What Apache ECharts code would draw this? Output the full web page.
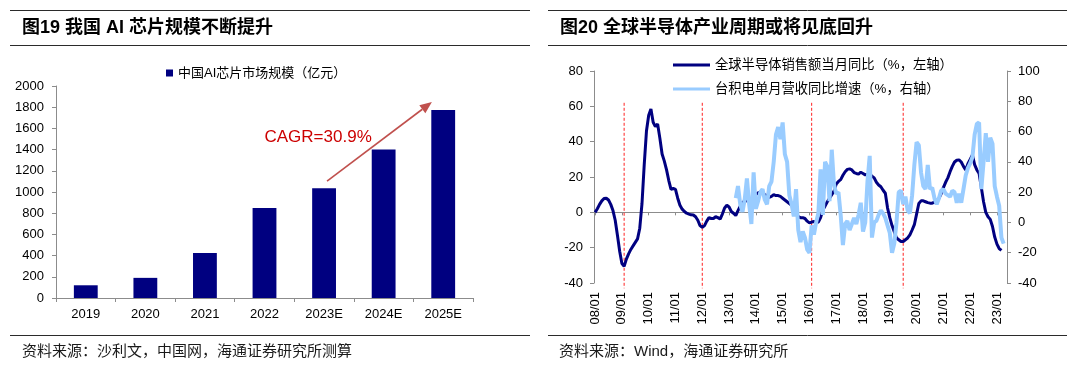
<!DOCTYPE html>
<html>
<head>
<meta charset="utf-8">
<script src="https://cdn.jsdelivr.net/npm/echarts@6/dist/echarts.min.js"></script>
<style>
html,body{margin:0;padding:0;background:#fff;}
#c{width:1080px;height:366px;}
</style>
</head>
<body>
<div id="c"></div>
<script>
// ---------------- data ----------------
const barCategories = ['2019', '2020', '2021', '2022', '2023E', '2024E', '2025E'];
const barValues = [120, 190, 425, 850, 1036, 1402, 1773];
const barSeriesName = '中国AI芯片市场规模（亿元）';
const cagrText = 'CAGR=30.9%';

const leftTitle = '图19 我国 AI 芯片规模不断提升';
const rightTitle = '图20 全球半导体产业周期或将见底回升';
const leftSource = '资料来源：沙利文，中国网，海通证券研究所测算';
const rightSource = '资料来源：Wind，海通证券研究所';

// monthly axis 2008/01 .. 2023/05
const monthFirstYear = 2008;
const monthCount = 185;
const monthCategories = [];
for (let i = 0; i < monthCount; i++) {
  const y = monthFirstYear + Math.floor(i / 12);
  const m = (i % 12) + 1;
  monthCategories.push(y + '/' + (m < 10 ? '0' + m : '' + m));
}

const salesName = '全球半导体销售额当月同比（%，左轴）';
const tsmcName = '台积电单月营收同比增速（%，右轴）';

// global semiconductor sales YoY (%), from 2008/01
const salesYoY = [
  0, 2, 4.5, 6.5, 7.8, 8, 7, 4.5, 1, -4.5,
  -13, -22, -29, -30.5, -26.5, -23.5, -21, -19, -17, -15,
  -9, 5, 27, 46, 55, 58.5, 51, 48.5, 50, 42,
  33, 29, 24, 18, 13, 13.5, 13, 8, 4, 1.8,
  0.5, -0.5, -1, -1.4, -1.5, -2.5, -4.5, -7.5, -8.5, -7.5,
  -5, -3, -3.5, -3.5, -2.5, -3, -3.8, -1, 2.5, 4,
  3, 0.5, -0.5, -1.8, 1, 3.5, 5.5, 6.5, 6.5, 6,
  6.5, 8.5, 10, 11, 11.5, 10.5, 10, 9.5, 8.5, 9,
  10, 9.5, 9.5, 9, 8, 7, 6, 5, 4, 2.5,
  0, -2.5, -3, -3, -3.5, -5, -6, -5.5, -5.2, -5.8,
  -5.5, -3, 1.4, 3.5, 6, 8, 10, 12, 16, 17.5,
  18.5, 21, 23, 24.3, 24.6, 24, 22.5, 22, 21.6, 22.7,
  22, 21.2, 21.5, 21.6, 20.5, 19.5, 17, 15.5, 14.5, 12.5,
  10.8, 2.4, -3, -7.5, -11, -14.5, -15.5, -16.5, -16.5, -15.5,
  -14.5, -12.8, -10, -7, -1, 5, 6.5, 6.5, 6, 5.5,
  5.2, 5.2, 5.8, 6.5, 8, 10.5, 14, 17, 19.5, 23,
  26, 28.5, 29.5, 29.7, 28.5, 26, 24, 27.5, 30, 32.5,
  27, 24, 22, 14, 6, 0, -2.5, -4, -8, -14,
  -18, -20.5, -21.6
];

// TSMC monthly revenue YoY (%), from 2013/04
const tsmcFirstMonth = '2013/04';
const tsmcYoY = [
  16, 24, 12, 7, 15, 29, 12, -1, 33, 9,
  14, 20, 22, 15, 12, 24, 27, 40, 58, 63,
  55, 66, 45, 40, 18, 12, 4, 22, -5, -13,
  -6, -10, -18, -20, -2, -8, 0, 6, 35, 5,
  40, 37, 14, 48, 25, 19, 20, 5, -15, -1,
  1, -5, -1, 3, -1, 5, 13, -6, 0, 27,
  44, -10, 0, 1, 5, 8, 6, 3, -2, -7,
  -20, -14, 0, 20, 21, 12, 17, 8, 6, 18,
  38, 53, 51, 33, 24, 22, 38, 22, 23, 16,
  12, 16, 21, 22, 19, 18, 17, 21, 20, 13,
  19, 13, 22, 31, 36, 39, 43, 58, 65, 66,
  22, 40, 59, 40, 56, 52, 24, 17, 11, -10,
  -14
];

// cycle-bottom markers (red dashed lines)
const cycleBottomMonths = ['2009/02', '2012/01', '2016/02', '2019/07'];

// ---------------- helpers ----------------
const NUM_FONT = '"Liberation Sans", Arial, "Noto Sans CJK SC", sans-serif';
const CJK_FONT = '"Liberation Sans", "Noto Sans CJK SC", sans-serif';

const tsmcStart = monthCategories.indexOf(tsmcFirstMonth);
const tsmcSeriesData = monthCategories.map((m, i) => {
  const k = i - tsmcStart;
  return (k >= 0 && k < tsmcYoY.length) ? tsmcYoY[k] : null;
});
const salesSeriesData = monthCategories.map((m, i) => i < salesYoY.length ? salesYoY[i] : null);

const markerTop = 62, markerBottom = -43;
const markerSeries = cycleBottomMonths.map(m => ({
  type: 'line',
  xAxisIndex: 1,
  yAxisIndex: 1,
  data: [[m, markerTop], [m, markerBottom]],
  symbol: 'none',
  clip: false,
  silent: true,
  z: 1,
  lineStyle: { color: '#ff2020', width: 1, type: [3, 2] }
}));

const axisGray = '#8c8c8c';
const plainNum = v => String(v);

const chart = echarts.init(document.getElementById('c'), null, { renderer: 'canvas' });

const option = {
  backgroundColor: '#ffffff',
  animation: false,
  grid: [
    { left: 56, right: 607, top: 86, bottom: 68, outerBoundsMode: 'none', containLabel: false },
    { left: 594, right: 73, top: 71, bottom: 83, outerBoundsMode: 'none', containLabel: false }
  ],
  legend: [
    {
      data: [barSeriesName],
      left: 166, top: 65, padding: 0,
      itemWidth: 7, itemHeight: 7, icon: 'rect',
      textStyle: { fontFamily: CJK_FONT, fontSize: 13, color: '#000', lineHeight: 16 }
    },
    {
      data: [salesName, tsmcName],
      orient: 'vertical', padding: 0,
      left: 673, top: 57,
      itemWidth: 37, itemHeight: 3, itemGap: 8, icon: 'rect',
      textStyle: { fontFamily: CJK_FONT, fontSize: 13.3, color: '#000', lineHeight: 16 }
    }
  ],
  xAxis: [
    {
      type: 'category', gridIndex: 0, data: barCategories,
      axisLine: { lineStyle: { color: axisGray, width: 1 } },
      axisTick: { show: true, length: 4, lineStyle: { color: axisGray } },
      axisLabel: { color: '#000', fontFamily: NUM_FONT, fontSize: 13, margin: 10 },
      splitLine: { show: false }
    },
    {
      type: 'category', gridIndex: 1, data: monthCategories, position: 'bottom',
      axisLine: { show: true, onZero: true, onZeroAxisIndex: 1, lineStyle: { color: axisGray, width: 1 } },
      axisTick: { show: true, interval: 11, length: 3, alignWithLabel: true, lineStyle: { color: axisGray } },
      axisLabel: { show: false },
      splitLine: { show: false }
    },
    {
      type: 'category', gridIndex: 1, data: monthCategories, position: 'bottom',
      axisLine: { show: false, onZero: false },
      axisTick: { show: false },
      axisLabel: {
        interval: 11, rotate: 90, margin: 9, color: '#000',
        fontFamily: NUM_FONT, fontSize: 13,
        formatter: v => v.slice(2)
      },
      splitLine: { show: false }
    }
  ],
  yAxis: [
    {
      type: 'value', gridIndex: 0, min: 0, max: 2000, interval: 200,
      axisLine: { show: true, lineStyle: { color: axisGray } },
      axisTick: { show: true, length: 4, lineStyle: { color: axisGray } },
      axisLabel: { color: '#000', fontFamily: NUM_FONT, fontSize: 13, margin: 12, formatter: plainNum },
      splitLine: { show: false }
    },
    {
      type: 'value', gridIndex: 1, position: 'left', min: -40, max: 80, interval: 20,
      axisLine: { show: true, onZero: false, lineStyle: { color: axisGray } },
      axisTick: { show: true, length: 4, lineStyle: { color: axisGray } },
      axisLabel: { color: '#000', fontFamily: NUM_FONT, fontSize: 13, margin: 11, formatter: plainNum },
      splitLine: { show: false }
    },
    {
      type: 'value', gridIndex: 1, position: 'right', min: -40, max: 100, interval: 20,
      axisLine: { show: true, onZero: false, lineStyle: { color: axisGray } },
      axisTick: { show: true, length: 4, lineStyle: { color: axisGray } },
      axisLabel: { color: '#000', fontFamily: NUM_FONT, fontSize: 13, margin: 11, formatter: plainNum },
      splitLine: { show: false }
    }
  ],
  series: [
    {
      name: barSeriesName, type: 'bar', xAxisIndex: 0, yAxisIndex: 0,
      data: barValues, barWidth: '40%',
      itemStyle: { color: '#000080' }
    },
    {
      name: salesName, type: 'line', xAxisIndex: 1, yAxisIndex: 1,
      data: salesSeriesData, symbol: 'none', z: 3,
      itemStyle: { color: '#000080' },
      lineStyle: { color: '#000080', width: 3 }
    },
    {
      name: tsmcName, type: 'line', xAxisIndex: 1, yAxisIndex: 2,
      data: tsmcSeriesData, symbol: 'none', z: 4,
      itemStyle: { color: '#99ccff' },
      lineStyle: { color: '#99ccff', width: 4 }
    }
  ].concat(markerSeries)
};
chart.setOption(option);

// ---------------- frame, titles, annotations ----------------
function barPx(catPos, value) {
  const i0 = Math.floor(catPos), f = catPos - i0;
  const a = chart.convertToPixel({ gridIndex: 0 }, [i0, value]);
  const b = chart.convertToPixel({ gridIndex: 0 }, [i0 + 1, value]);
  return [a[0] + (b[0] - a[0]) * f, a[1]];
}
const cagrAnchor = barPx(3.0, 1518);
const arrowFrom = barPx(4.05, 1102);
const arrowTo = barPx(5.81, 1849);
const dx = arrowTo[0] - arrowFrom[0], dy = arrowTo[1] - arrowFrom[1];
const len = Math.sqrt(dx * dx + dy * dy);
const ux = dx / len, uy = dy / len;
const headLen = 12, headHalf = 5;
const baseX = arrowTo[0] - ux * headLen, baseY = arrowTo[1] - uy * headLen;
const arrowColor = '#c0504d';

function rule(x1, x2, y) {
  return { type: 'line', shape: { x1: x1, y1: y, x2: x2, y2: y }, style: { stroke: '#2b2b2b', lineWidth: 1 }, silent: true };
}
function text(x, y, s, size, weight, color) {
  return {
    type: 'text', x: x, y: y, silent: true,
    style: { text: s, fontSize: size, fontWeight: weight, fontFamily: CJK_FONT, fill: color, align: 'left', verticalAlign: 'middle', textAlign: 'left', textVerticalAlign: 'middle' }
  };
}

chart.setOption({
  graphic: [
    rule(10, 530, 10.5), rule(10, 530, 45.5), rule(10, 530, 335.5),
    rule(548, 1067, 10.5), rule(548, 1067, 45.5), rule(548, 1067, 335.5),
    text(22, 28, leftTitle, 18, 'bold', '#000'),
    text(560, 28, rightTitle, 18, 'bold', '#000'),
    text(22, 352, leftSource, 15, 'normal', '#1a1a1a'),
    text(559, 352, rightSource, 15, 'normal', '#1a1a1a'),
    {
      type: 'text', x: cagrAnchor[0], y: cagrAnchor[1], silent: true,
      style: { text: cagrText, fontSize: 17, fontFamily: NUM_FONT, fill: '#cc0000', align: 'left', verticalAlign: 'middle', textAlign: 'left', textVerticalAlign: 'middle' }
    },
    {
      type: 'line', silent: true,
      shape: { x1: arrowFrom[0], y1: arrowFrom[1], x2: baseX, y2: baseY },
      style: { stroke: arrowColor, lineWidth: 1.6 }
    },
    {
      type: 'polygon', silent: true,
      shape: { points: [
        [arrowTo[0], arrowTo[1]],
        [baseX - uy * headHalf, baseY + ux * headHalf],
        [baseX + uy * headHalf, baseY - ux * headHalf]
      ] },
      style: { fill: arrowColor }
    }
  ]
});
</script>
</body>
</html>
